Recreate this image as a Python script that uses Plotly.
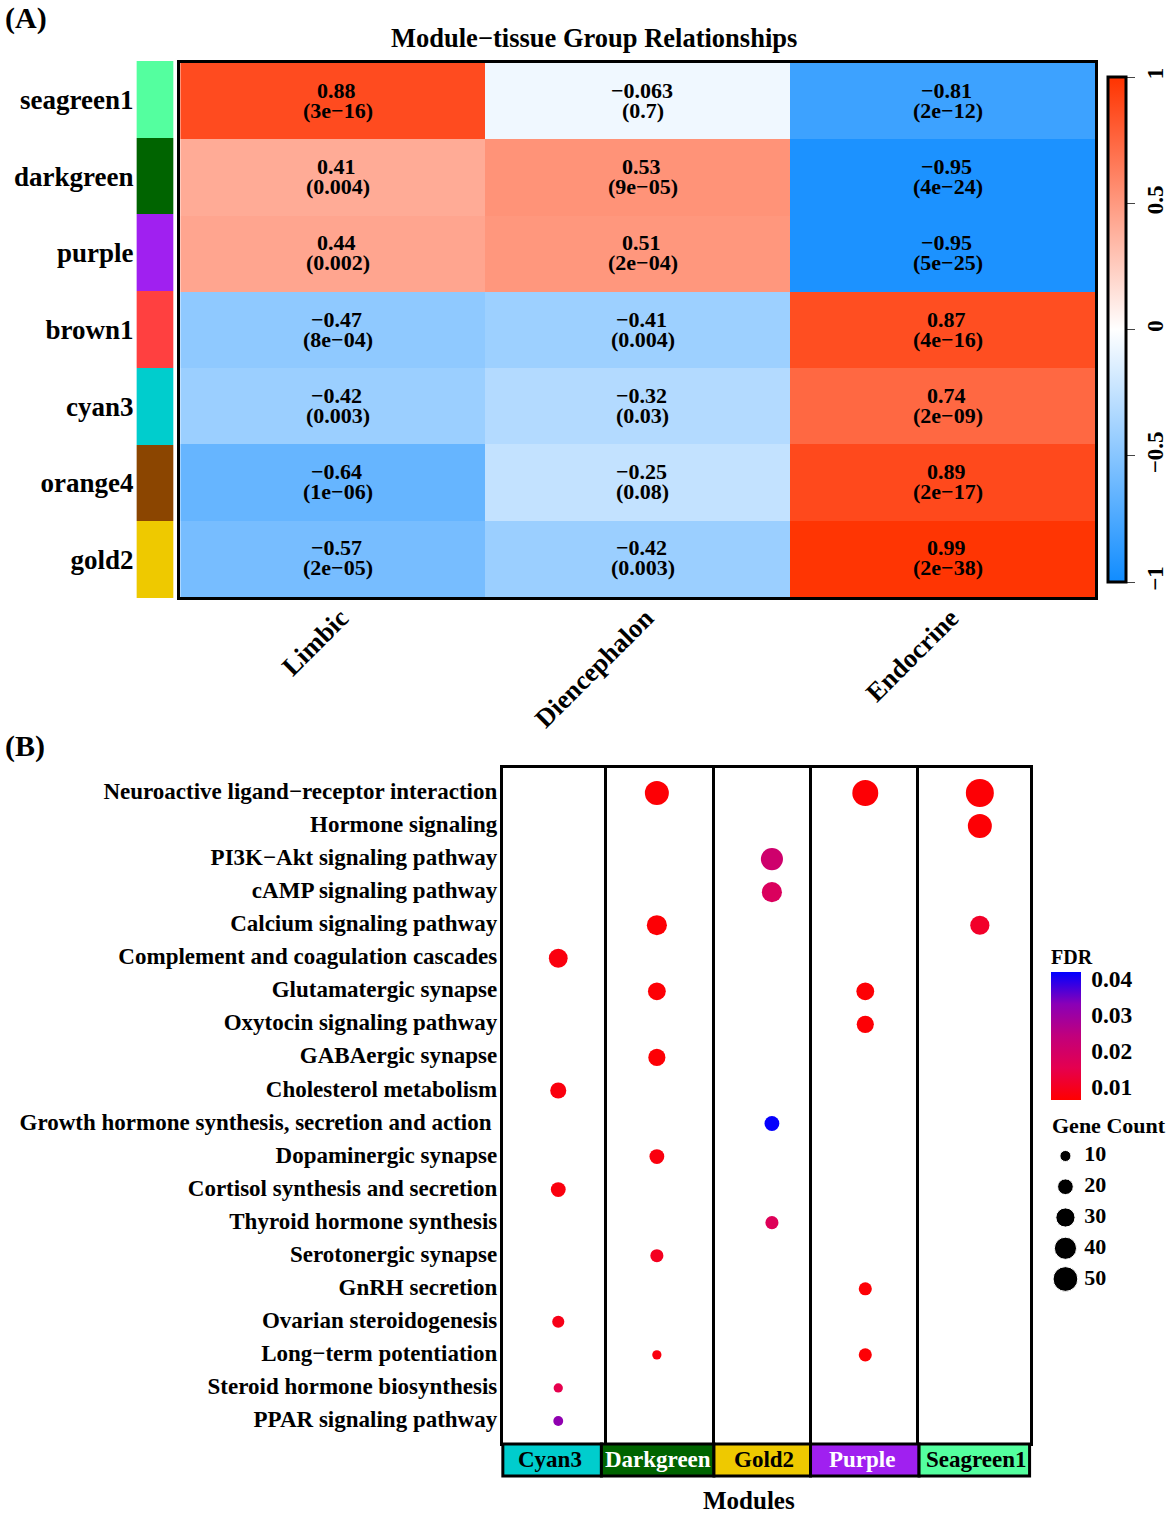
import numpy as np
import plotly.graph_objects as go

W, H = 1170, 1515
FONT = "Liberation Serif"

# panel A
modules = ["seagreen1", "darkgreen", "purple", "brown1", "cyan3", "orange4", "gold2"]
module_colors = ["#54FF9F", "#006400", "#A020F0", "#FF4040", "#00CDCD", "#8B4500", "#EEC900"]
tissues = ["Limbic", "Diencephalon", "Endocrine"]
cor = [[0.88, -0.063, -0.81],
       [0.41, 0.53, -0.95],
       [0.44, 0.51, -0.95],
       [-0.47, -0.41, 0.87],
       [-0.42, -0.32, 0.74],
       [-0.64, -0.25, 0.89],
       [-0.57, -0.42, 0.99]]
pvals = [["3e−16", "0.7", "2e−12"],
         ["0.004", "9e−05", "4e−24"],
         ["0.002", "2e−04", "5e−25"],
         ["8e−04", "0.004", "4e−16"],
         ["0.003", "0.03", "2e−09"],
         ["1e−06", "0.08", "2e−17"],
         ["2e−05", "0.003", "2e−38"]]

# panel B
pathways = ["Neuroactive ligand−receptor interaction", "Hormone signaling", "PI3K−Akt signaling pathway",
            "cAMP signaling pathway", "Calcium signaling pathway", "Complement and coagulation cascades",
            "Glutamatergic synapse", "Oxytocin signaling pathway", "GABAergic synapse",
            "Cholesterol metabolism", "Growth hormone synthesis, secretion and action ", "Dopaminergic synapse",
            "Cortisol synthesis and secretion", "Thyroid hormone synthesis", "Serotonergic synapse",
            "GnRH secretion", "Ovarian steroidogenesis", "Long−term potentiation",
            "Steroid hormone biosynthesis", "PPAR signaling pathway"]
facets = ["Cyan3", "Darkgreen", "Gold2", "Purple", "Seagreen1"]
facet_text = ["black", "white", "black", "white", "black"]
facet_fill = ["#00CDCD", "#006400", "#EEC900", "#A020F0", "#54FF9F"]

cyan3_terms = [5, 9, 12, 16, 18, 19]
cyan3_count = [29, 21, 18, 12, 7, 8]
cyan3_fdr = [0.008, 0.008, 0.008, 0.009, 0.015, 0.032]
darkgreen_terms = [0, 4, 6, 8, 11, 14, 17]
darkgreen_count = [47, 33, 26, 24, 18, 14, 7]
darkgreen_fdr = [0.007, 0.007, 0.007, 0.007, 0.008, 0.01, 0.008]
gold2_terms = [2, 3, 10, 13]
gold2_count = [40, 33, 18, 14]
gold2_fdr = [0.021, 0.018, 0.0415, 0.017]
purple_terms = [0, 6, 7, 15, 17]
purple_count = [55, 26, 24, 14, 14]
purple_fdr = [0.007, 0.007, 0.007, 0.007, 0.007]
seagreen1_terms = [0, 1, 4]
seagreen1_count = [64, 47, 30]
seagreen1_fdr = [0.007, 0.007, 0.011]

facet_terms = [cyan3_terms, darkgreen_terms, gold2_terms, purple_terms, seagreen1_terms]
facet_count = [cyan3_count, darkgreen_count, gold2_count, purple_count, seagreen1_count]
facet_fdr = [cyan3_fdr, darkgreen_fdr, gold2_fdr, purple_fdr, seagreen1_fdr]

legend_counts = [10, 20, 30, 40, 50]
fdr_ticks = [0.01, 0.02, 0.03, 0.04]
cor_ticks = [-1, -0.5, 0, 0.5, 1]
cor_tick_text = ["−1", "−0.5", "0", "0.5", "1"]


def px(x):
    return x / W


def py(y):
    return 1 - y / H


def bold(size, color="black"):
    return dict(family=FONT, size=size, color=color, weight=700)


fig = go.Figure()

# heatmap
fig.add_trace(go.Heatmap(z=cor, x=tissues, y=modules, coloraxis="coloraxis", xaxis="x", yaxis="y",
                         xgap=0, ygap=0, hoverinfo="skip"))
# colour strip next to it
fig.add_trace(go.Heatmap(z=[[i] for i in range(len(modules))], x=["m"], y=modules, xaxis="x2", yaxis="y2",
                         colorscale=[[i / (len(modules) - 1), c] for i, c in enumerate(module_colors)],
                         showscale=False, hoverinfo="skip"))

annotations = []
for i, m in enumerate(modules):
    for j, t in enumerate(tissues):
        annotations.append(dict(x=t, y=m, xref="x", yref="y", text=str(cor[i][j]).replace("-", "−"),
                                showarrow=False, font=bold(22), xshift=4, yshift=11))
        annotations.append(dict(x=t, y=m, xref="x", yref="y", text="(" + pvals[i][j] + ")",
                                showarrow=False, font=bold(22), xshift=5, yshift=-9))

# dot plot, one x axis per module
for k, name in enumerate(facets):
    n = str(k + 3)
    fig.add_trace(go.Scatter(x=[name] * len(facet_terms[k]), y=[pathways[t] for t in facet_terms[k]],
                             mode="markers", xaxis="x" + n, yaxis="y" + n, hoverinfo="skip", showlegend=False,
                             marker=dict(size=np.sqrt(facet_count[k]), sizemode="diameter", sizeref=1 / 3.5,
                                         color=facet_fdr[k], coloraxis="coloraxis2", opacity=1, line=dict(width=0))))

# size legend
fig.add_trace(go.Scatter(x=[0] * 5, y=[str(c) for c in legend_counts], mode="markers", xaxis="x8", yaxis="y8",
                         marker=dict(size=np.sqrt(legend_counts), sizemode="diameter", sizeref=1 / 3.5,
                                     color="black", opacity=1),
                         hoverinfo="skip", showlegend=False))
fig.add_trace(go.Scatter(x=[1] * 5, y=[str(c) for c in legend_counts], mode="text", xaxis="x8", yaxis="y8",
                         text=[str(c) for c in legend_counts], textposition="middle right", textfont=bold(22),
                         hoverinfo="skip", showlegend=False))

layout = dict(
    width=W, height=H, margin=dict(l=0, r=0, t=0, b=0), paper_bgcolor="white", plot_bgcolor="white",
    showlegend=False,
    coloraxis=dict(cmin=-1, cmax=1, colorscale=[[0, "#108CFF"], [0.5, "#FFFFFF"], [1, "#FF3300"]],
                   colorbar=dict(x=px(1113), xanchor="left", y=py(77), yanchor="top", len=505, lenmode="pixels",
                                 thickness=18, thicknessmode="pixels", xpad=0, ypad=0, outlinewidth=3,
                                 outlinecolor="black", tickvals=cor_ticks, ticktext=cor_tick_text, ticks="outside",
                                 ticklen=8, tickwidth=1, tickcolor="#444", tickangle=-90, tickfont=bold(23))),
    coloraxis2=dict(cmin=0.0064, cmax=0.0419,
                    colorscale=[[0, "#FF0000"], [0.25, "#E5004F"], [0.5, "#C1007C"], [0.75, "#8A00B7"], [1, "#0000FF"]],
                    colorbar=dict(x=px(1056), xanchor="left", y=py(972), yanchor="top", len=128, lenmode="pixels",
                                  thickness=30, thicknessmode="pixels", xpad=0, ypad=0, outlinewidth=0,
                                  tickvals=fdr_ticks, ticktext=["0.01", "0.02", "0.03", "0.04"], ticks="outside",
                                  ticklen=6, tickwidth=1, tickcolor="rgba(0,0,0,0)", tickfont=bold(23.5))),
    xaxis=dict(domain=[px(181), px(1100)], anchor="y", showline=True, linewidth=3, linecolor="black", mirror=True,
               tickangle=-45, tickfont=bold(26.5), ticks="", ticklabelstandoff=-8, ticklabelshift=8),
    yaxis=dict(domain=[py(597), py(63)], anchor="x", autorange="reversed", showline=True, linewidth=3,
               linecolor="black", mirror=True, showticklabels=False, ticks=""),
    xaxis2=dict(domain=[px(137), px(174.5)], anchor="y2", showticklabels=False, ticks="", showline=False),
    yaxis2=dict(domain=[py(598), py(61)], anchor="x2", autorange="reversed", tickfont=bold(27), ticks="",
                showline=False, ticklabelstandoff=2),
    xaxis8=dict(domain=[px(1056), px(1170)], anchor="y8", range=[-0.737, 5.26], visible=False),
    yaxis8=dict(domain=[py(1294.4), py(1140.6)], anchor="x8", range=[4.5, -0.5], type="category", visible=False),
)

# facet layout: panel edges and how far each column's dots sit from the middle
edges = [505, 610, 718, 815, 923, 1034]
dot_offset = [0.03, -0.04, 0.09, 0.0, 0.05]
strip_edges = [505, 604, 717, 814, 923, 1034]
shapes = []
for k in range(5):
    n = str(k + 3)
    layout["xaxis" + n] = dict(domain=[px(edges[k]), px(edges[k + 1])], anchor="y" + n, type="category",
                               range=[-0.5 - dot_offset[k], 0.5 - dot_offset[k]], showticklabels=False, ticks="",
                               showline=True, linewidth=3, linecolor="black", mirror=True)
    layout["yaxis" + n] = dict(domain=[py(1443), py(768)], anchor="x" + n, type="category",
                               categoryorder="array", categoryarray=pathways, range=[19.667, -0.757],
                               showticklabels=k == 0, ticks="", showline=True, linewidth=3, linecolor="black",
                               mirror=k == 4, tickfont=bold(23), tickmode="array", tickvals=pathways,
                               ticklabelstandoff=-2, ticklabelshift=2)
    shapes.append(dict(type="rect", xref="paper", yref="paper", x0=px(strip_edges[k]), x1=px(strip_edges[k + 1]),
                       y0=py(1476), y1=py(1444), fillcolor=facet_fill[k], line=dict(color="black", width=3)))

# white ticks on both edges of the FDR bar
for v in fdr_ticks:
    frac = (v - 0.0064) / (0.0419 - 0.0064)
    y_paper = py(1100) + frac * (py(972) - py(1100))
    for a, b in [(1056, 1062), (1080, 1086)]:
        shapes.append(dict(type="line", xref="paper", yref="paper", x0=px(a), x1=px(b), y0=y_paper, y1=y_paper,
                           line=dict(color="white", width=1)))

texts = [("(A)", 3, 18, 30, "left"), ("(B)", 3, 746, 30, "left"),
         ("Module−tissue Group Relationships", 597, 38, 26.5, "center"),
         ("Modules", 752, 1500, 25, "center"), ("FDR", 1077, 957, 20, "center"),
         ("Gene Count", 1114, 1125, 22, "center")]
for txt, x, y, size, align in texts:
    annotations.append(dict(x=px(x), y=py(y), xref="paper", yref="paper", text=txt, showarrow=False,
                            xanchor=align, yanchor="middle", font=bold(size)))

strip_centres = [552, 661, 767, 866, 981]
for k, name in enumerate(facets):
    annotations.append(dict(x=px(strip_centres[k]), y=py(1459), xref="paper", yref="paper", text=name,
                            showarrow=False, xanchor="center", yanchor="middle", font=bold(23, facet_text[k])))

layout["shapes"] = shapes
layout["annotations"] = annotations
fig.update_layout(**layout)

# page body has a default margin, drop it so the figure fills the window
fig.write_html("out.html", config={"displayModeBar": False}, post_script="document.body.style.margin='0';")
